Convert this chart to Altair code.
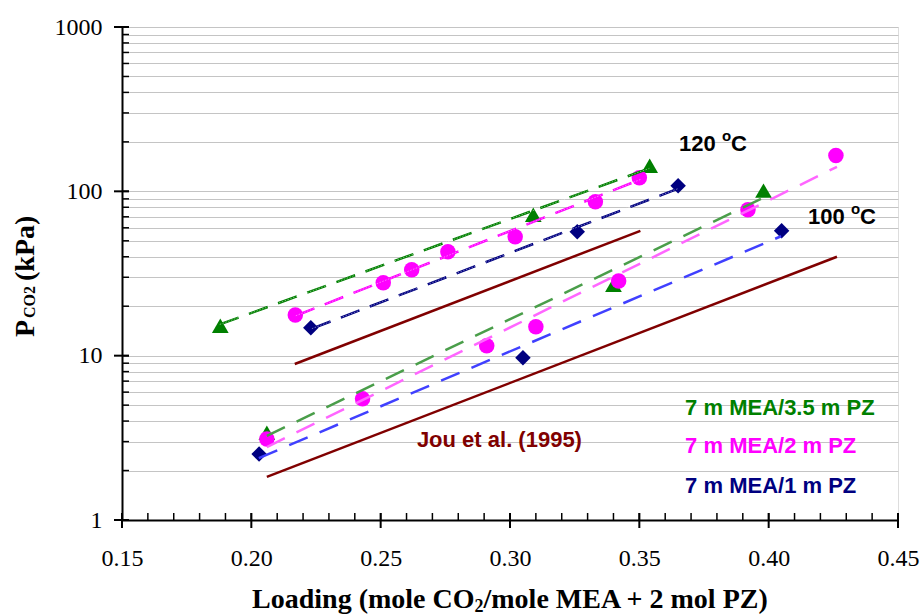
import altair as alt
import pandas as pd

W, H = 776, 493

# ---- measured data ----
# 7 m MEA / 3.5 m PZ (green triangles)
g120_x = [0.188, 0.309, 0.354]
g120_y = [15.2, 72.0, 143]
g100_x = [0.206, 0.340, 0.398]
g100_y = [3.4, 27.0, 101]
# 7 m MEA / 2 m PZ (magenta circles)
p120_x = [0.217, 0.251, 0.262, 0.276, 0.302, 0.333, 0.350]
p120_y = [17.7, 27.8, 33.3, 42.9, 52.9, 86.4, 121]
p100_x = [0.206, 0.243, 0.291, 0.310, 0.342, 0.392, 0.426]
p100_y = [3.11, 5.46, 11.5, 15.0, 28.5, 77.3, 165]
# 7 m MEA / 1 m PZ (navy diamonds)
n120_x = [0.223, 0.326, 0.365]
n120_y = [14.8, 56.8, 108]
n100_x = [0.203, 0.305, 0.405]
n100_y = [2.52, 9.7, 57.5]

# trend lines (end points)
fg120_x, fg120_y = [0.1878, 0.3539], [15.5, 138]
fp120_x, fp120_y = [0.2172, 0.3504], [17.5, 118]
fn120_x, fn120_y = [0.2234, 0.3651], [14.6, 104]
fg100_x, fg100_y = [0.2060, 0.3979], [3.25, 91.4]
fp100_x, fp100_y = [0.2060, 0.4264], [2.78, 141]
fn100_x, fn100_y = [0.2029, 0.4048], [2.38, 53.3]
jou120_x, jou120_y = [0.2168, 0.3504], [8.9, 57.5]
jou100_x, jou100_y = [0.2060, 0.4264], [1.83, 40.0]

# annotations
ann_text = ["Jou et al. (1995)", "7 m MEA/3.5 m PZ", "7 m MEA/2 m PZ", "7 m MEA/1 m PZ"]
ann_x = [0.2640, 0.3677, 0.3677, 0.3677]
ann_y = [3.07, 4.80, 2.82, 1.61]
ann_col = ["#800000", "#008000", "#ff00ff", "#000080"]
temp_text = ["120", "100"]
temp_x = [0.3653, 0.4152]
temp_y = [194, 69.8]

# axis ticks
x_major = [0.15, 0.20, 0.25, 0.30, 0.35, 0.40, 0.45]
x_minor = [0.15, 0.16, 0.17, 0.18, 0.19, 0.20, 0.21, 0.22, 0.23, 0.24, 0.25, 0.26,
           0.27, 0.28, 0.29, 0.30, 0.31, 0.32, 0.33, 0.34, 0.35, 0.36, 0.37, 0.38,
           0.39, 0.40, 0.41, 0.42, 0.43, 0.44, 0.45]
y_major = [1, 10, 100, 1000]
y_grid = [1, 2, 3, 4, 5, 6, 7, 8, 9, 10, 20, 30, 40, 50, 60, 70, 80, 90,
          100, 200, 300, 400, 500, 600, 700, 800, 900, 1000]

x_scale = alt.Scale(domain=[0.15, 0.45], nice=False, zero=False)
y_scale = alt.Scale(type="log", domain=[1, 1000], nice=False)

x_axis = alt.Axis(values=x_major, format=".2f", title=None, grid=False, ticks=False,
                  labelFont="Liberation Serif", labelFontSize=24, labelColor="black",
                  labelPadding=26, labelFlush=False, labelOverlap=False,
                  domainColor="black", domainWidth=2)
y_axis = alt.Axis(values=y_grid, title=None, grid=True, gridColor="#c4c4c4", gridWidth=1,
                  ticks=False, format="d",
                  labelExpr="indexof([1,10,100,1000], datum.value) >= 0 ? datum.label : ''",
                  labelFont="Liberation Serif", labelFontSize=24, labelColor="black",
                  labelPadding=20, labelFlush=False, labelOverlap=False,
                  domainColor="black", domainWidth=2)


def X(field="x"):
    return alt.X(f"{field}:Q", scale=x_scale, axis=x_axis)


def Y(field="y"):
    return alt.Y(f"{field}:Q", scale=y_scale, axis=y_axis)


def pts(xs, ys, shape, color, size):
    df = pd.DataFrame({"x": xs, "y": ys})
    return alt.Chart(df).mark_point(shape=shape, filled=True, color=color, size=size,
                                    opacity=1, strokeWidth=0).encode(x=X(), y=Y())


def fit(xs, ys, color, width, dash=None, opacity=1.0):
    df = pd.DataFrame({"x": xs, "y": ys})
    if dash:
        m = alt.Chart(df).mark_line(color=color, strokeWidth=width, strokeDash=dash,
                                    opacity=opacity)
    else:
        m = alt.Chart(df).mark_line(color=color, strokeWidth=width, opacity=opacity)
    return m.encode(x=X(), y=Y())


def label(text, x, y, size, angle=0, align="left"):
    return alt.Chart(pd.DataFrame({"t": [text]})).mark_text(
        align=align, baseline="alphabetic", angle=angle, fontSize=size,
        fontWeight="bold", font="Liberation Serif", color="black"
    ).encode(x=alt.value(x), y=alt.value(y), text="t:N")


# ticks
xt_minor = alt.Chart(pd.DataFrame({"x": x_minor})).mark_rule(color="black", strokeWidth=1.5).encode(
    x=X(), y=alt.value(H - 7), y2=alt.value(H))
xt_major = alt.Chart(pd.DataFrame({"x": x_major})).mark_rule(color="black", strokeWidth=2).encode(
    x=X(), y=alt.value(H - 7), y2=alt.value(H + 8))
yt_minor = alt.Chart(pd.DataFrame({"y": y_grid})).mark_rule(color="black", strokeWidth=1.5).encode(
    y=Y(), x=alt.value(0), x2=alt.value(7))
yt_major = alt.Chart(pd.DataFrame({"y": y_major})).mark_rule(color="black", strokeWidth=2).encode(
    y=Y(), x=alt.value(-8), x2=alt.value(7))

TRI, DIA, CIR = 280, 240, 240

layers = [
    xt_minor, xt_major, yt_minor, yt_major,
    pts(g120_x, g120_y, "triangle-up", "#008000", TRI),
    pts(g100_x, g100_y, "triangle-up", "#008000", TRI),
    pts(n120_x, n120_y, "diamond", "#000080", DIA),
    pts(n100_x, n100_y, "diamond", "#000080", DIA),
    pts(p120_x, p120_y, "circle", "#ff00ff", CIR),
    pts(p100_x, p100_y, "circle", "#ff00ff", CIR),
    fit(jou120_x, jou120_y, "#800000", 2.5),
    fit(jou100_x, jou100_y, "#800000", 2.5),
    fit(fg120_x, fg120_y, "#008000", 2.5, [20, 11]),
    fit(fp120_x, fp120_y, "#ff00ff", 2.5, [20, 11]),
    fit(fn120_x, fn120_y, "#000080", 2.5, [20, 11]),
    # hatched texture of the 120 C trend lines
    fit(fg120_x, fg120_y, "white", 1, [1.5, 1.5], 0.45),
    fit(fp120_x, fp120_y, "white", 1, [1.5, 1.5], 0.45),
    fit(fn120_x, fn120_y, "white", 1, [1.5, 1.5], 0.45),
    fit(fg100_x, fg100_y, "#4a9e4a", 2.5, [20, 13]),
    fit(fp100_x, fp100_y, "#ff66ff", 2.5, [20, 13]),
    fit(fn100_x, fn100_y, "#4040ff", 2.5, [20, 13]),
]

ann_df = pd.DataFrame({"x": ann_x, "y": ann_y, "t": ann_text, "c": ann_col})
layers.append(alt.Chart(ann_df).mark_text(
    align="left", baseline="middle", font="Liberation Sans", fontWeight="bold", fontSize=22
).encode(x=X(), y=Y(), text="t:N", color=alt.Color("c:N", scale=None)))

temp_df = pd.DataFrame({"x": temp_x, "y": temp_y, "t": temp_text})
tbase = alt.Chart(temp_df)
layers.append(tbase.mark_text(align="left", baseline="middle", font="Liberation Sans",
                              fontWeight="bold", fontSize=22, color="black").encode(
    x=X(), y=Y(), text="t:N"))
layers.append(tbase.mark_text(align="left", baseline="middle", font="Liberation Sans",
                              fontWeight="bold", fontSize=15, color="black", dx=43, dy=-8).encode(
    x=X(), y=Y(), text=alt.value("o")))
layers.append(tbase.mark_text(align="left", baseline="middle", font="Liberation Sans",
                              fontWeight="bold", fontSize=22, color="black", dx=52).encode(
    x=X(), y=Y(), text=alt.value("C")))

# axis titles (composed for subscripts)
layers += [
    label("Loading (mole CO", 352.5, 581, 28, align="right"),
    label("2", 352.5, 585, 18),
    label("/mole MEA + 2 mol PZ)", 361.5, 581, 28),
    label("P", -88.5, 310, 28, angle=270),
    label("CO2", -87.5, 291, 16, angle=270),
    label("(kPa)", -88.5, 254, 28, angle=270),
]

chart = alt.layer(*layers).properties(
    width=W, height=H,
    padding={"left": 122, "top": 27, "right": 24, "bottom": 96},
    autosize=alt.AutoSizeParams(type="none"),
).configure_view(stroke="#8c8c8c", strokeWidth=1.5).configure_axis(
    labelFont="Liberation Serif", labelFontSize=24, labelColor="black"
).configure(background="white")

chart.save("out.html", embed_options={"renderer": "svg", "actions": False})
